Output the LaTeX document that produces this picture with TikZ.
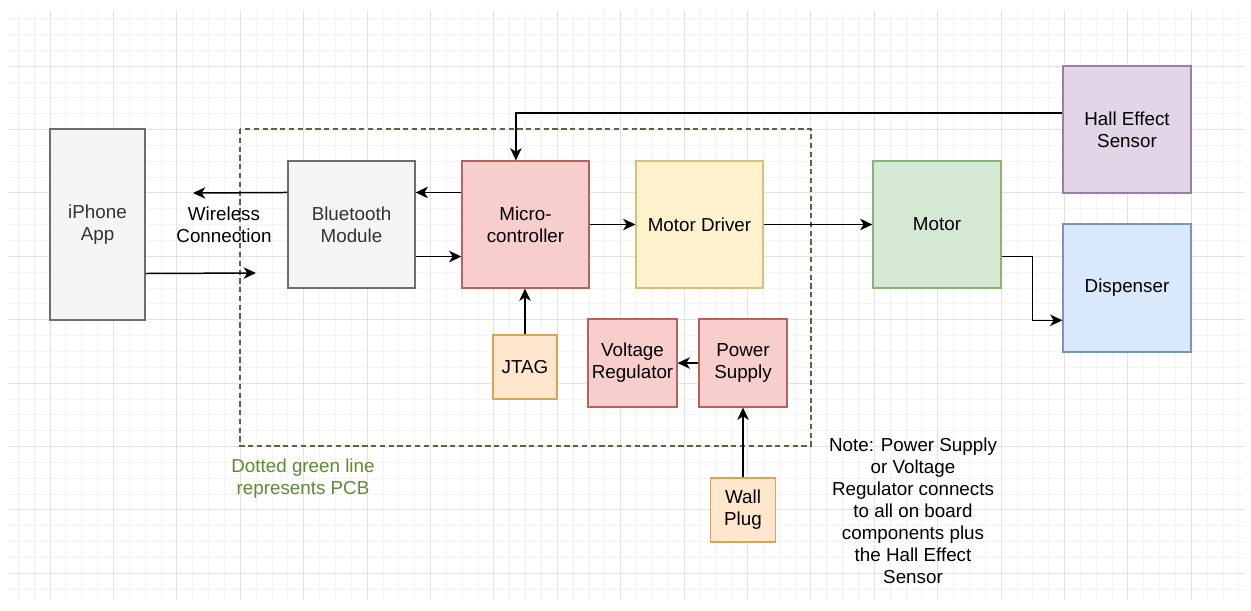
\documentclass[tikz,border=0pt]{standalone}
\usepackage{fontspec}
\setmainfont{Liberation Sans}
\usetikzlibrary{calc,arrows.meta}
\definecolor{grayF}{HTML}{F5F5F5}\definecolor{grayS}{HTML}{6E6E6E}
\definecolor{redF}{HTML}{F8CECC}\definecolor{redS}{HTML}{B8625E}
\definecolor{yelF}{HTML}{FFF2CC}\definecolor{yelS}{HTML}{D8C07A}
\definecolor{orgF}{HTML}{FFE6CC}\definecolor{orgS}{HTML}{D8A455}
\definecolor{grnF}{HTML}{D5E8D4}\definecolor{grnS}{HTML}{8AB474}
\definecolor{purF}{HTML}{E1D5E7}\definecolor{purS}{HTML}{9A7EA8}
\definecolor{bluF}{HTML}{DAE8FC}\definecolor{bluS}{HTML}{7896C2}
\definecolor{pcbS}{HTML}{56663F}
\definecolor{pcbT}{HTML}{5E8A30}
\definecolor{gridMaj}{HTML}{E2E2E2}
\definecolor{gridMin}{HTML}{F4F4F4}
\tikzset{
  blk/.style n args={2}{draw, line width=0.65pt, align=center, inner sep=0pt,
    minimum width=#1*0.02cm, minimum height=#2*0.02cm,
    font=\fontsize{10.7}{12.5}\selectfont},
  gbox/.style={fill=grayF, draw=grayS, text=black!80},
  rbox/.style={fill=redF, draw=redS},
  ybox/.style={fill=yelF, draw=yelS},
  obox/.style={fill=orgF, draw=orgS},
  gnbox/.style={fill=grnF, draw=grnS},
  pbox/.style={fill=purF, draw=purS},
  bbox/.style={fill=bluF, draw=bluS},
  arr/.style={line width=0.85pt, -{Stealth[length=7pt,width=6.5pt,inset=2pt]}},
  lbl/.style={align=center, inner sep=0pt, font=\fontsize{10.7}{12.5}\selectfont},
}
\begin{document}
\begin{tikzpicture}[x=0.02cm, y=-0.02cm]
\useasboundingbox[fill=white] (0,0) rectangle (1251,610);
% grid
\foreach \j in {-2,...,75} {\draw[gridMin, line width=0.4pt] ({50+15.85*\j},10) -- ({50+15.85*\j},600);}
\foreach \j in {-3,...,33} {\draw[gridMin, line width=0.4pt] (8,{66+15.85*\j}) -- (1245,{66+15.85*\j});}
\foreach \k in {0,...,18} {\draw[gridMaj, line width=0.5pt] ({50+63.4*\k},10) -- ({50+63.4*\k},600);}
\foreach \k in {0,...,8} {\draw[gridMaj, line width=0.5pt] (8,{66+63.4*\k}) -- (1245,{66+63.4*\k});}

% PCB outline
\draw[pcbS, line width=0.6pt, dash pattern=on 3pt off 2pt] (240,129) rectangle (811,446);
\node[lbl, text=pcbT] (pcbl) at (303,479) {Dotted green line\\represents PCB};

% nodes
\node[blk={95}{191}, gbox] (iph) at (97.5,224.5) {iPhone\\App};
\node[blk={127}{127}, gbox] (bt) at (351.5,224.5) {Bluetooth\\Module};
\node[blk={127}{127}, rbox] (mcu) at (525.5,224.5) {Micro-\\controller};
\node[blk={127}{127}, ybox] (md) at (699.5,224.5) {Motor Driver};
\node[blk={64}{64}, obox] (jtag) at (525,367) {JTAG};
\node[blk={89}{88}, rbox] (vreg) at (632.5,363) {Voltage\\Regulator};
\node[blk={88}{88}, rbox] (psu) at (743,363) {Power\\Supply};
\node[blk={65}{64}, obox] (wall) at (743,510) {Wall\\Plug};
\node[blk={128}{127}, gnbox] (mot) at (937,224.5) {Motor};
\node[blk={128}{127}, pbox] (hall) at (1127,129.5) {Hall Effect\\Sensor};
\node[blk={128}{128}, bbox] (disp) at (1127,288) {Dispenser};

\node[lbl] (wc) at (224,225) {Wireless\\Connection};
\node[lbl] (note) at (913,511) {Note: Power Supply\\or Voltage\\Regulator connects\\to all on board\\components plus\\the Hall Effect\\Sensor};

% connectors
\coordinate (wl1) at (193,193);
\coordinate (wl2) at (256,273);
\draw[arr] ($(bt.north west)!0.25!(bt.south west)$) -- (wl1);
\draw[arr] ($(iph.north east)!0.755!(iph.south east)$) -- (wl2);
\draw[arr] ($(mcu.north west)!0.25!(mcu.south west)$) -- ($(bt.north east)!0.25!(bt.south east)$);
\draw[arr] ($(bt.north east)!0.75!(bt.south east)$) -- ($(mcu.north west)!0.75!(mcu.south west)$);
\draw[arr] (mcu.east) -- (md.west);
\draw[arr] (md.east) -- (mot.west);
\draw[arr] (jtag.north) -- (jtag.north |- mcu.south);
\draw[arr] (psu.west) -- (vreg.east);
\draw[arr] (wall.north) -- (psu.south);
\draw[arr] ($(hall.north west)!0.37!(hall.south west)$) -| ($(mcu.north west)!0.425!(mcu.north east)$);
\draw[arr] ($(mot.north east)!0.75!(mot.south east)$) -- ++(31,0) |- ($(disp.north west)!0.75!(disp.south west)$);
\end{tikzpicture}
\end{document}
